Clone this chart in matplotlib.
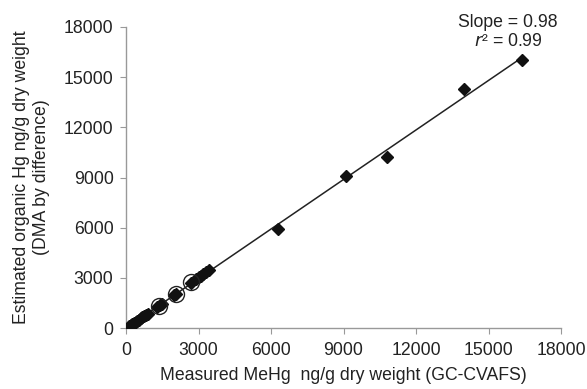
import matplotlib.pyplot as plt
import numpy as np

plt.rcParams['font.family'] = ['Liberation Sans', 'DejaVu Sans']

# measured MeHg (GC-CVAFS) vs estimated organic Hg (DMA by difference)
medido = [120, 200, 260, 330, 400, 460, 520, 600, 680, 750, 820, 900,
          1300, 1400, 1500, 2000, 2050, 2700, 2900, 3000, 3100, 3200,
          3300, 3450, 6300, 9100, 10800, 14000, 16400]
estimado = [100, 180, 250, 310, 380, 430, 500, 570, 640, 700, 780, 850,
            1250, 1350, 1450, 2000, 2050, 2700, 2950, 3050, 3100, 3250,
            3350, 3480, 5900, 9100, 10250, 14300, 16000]

# puntos marcados con circulo
circ_x = [1350, 2050, 2700]
circ_y = [1320, 2030, 2750]

ticks = [0, 3000, 6000, 9000, 12000, 15000, 18000]
fs = 12.7

fig = plt.figure(figsize=(5.87, 3.89), dpi=100)
ax = fig.add_axes([0.2147, 0.1568, 0.741, 0.7738])

m, b = np.polyfit(medido, estimado, 1)
xl = np.array([min(medido), max(medido)])
ax.plot(xl, m * xl + b, color='#222222', lw=1.1, zorder=2)

ax.plot(medido, estimado, 'D', color='#111111', markersize=6.3, zorder=3)
ax.plot(circ_x, circ_y, 'o', mfc='none', mec='#222222', mew=1.0,
        markersize=11.5, zorder=4)

ax.set_xlim(0, 18000)
ax.set_ylim(0, 18000)
ax.set_xticks(ticks)
ax.set_yticks(ticks)

for s in ['top', 'right']:
    ax.spines[s].set_visible(False)
for s in ['left', 'bottom']:
    ax.spines[s].set_color('#999999')
    ax.spines[s].set_linewidth(1.0)
ax.tick_params(direction='out', length=4, color='#999999', labelsize=fs,
               labelcolor='#222222', pad=5)
ax.tick_params(axis='x', pad=6)

ax.set_xlabel('Measured MeHg  ng/g dry weight (GC-CVAFS)', fontsize=fs,
              color='#222222', labelpad=6)
ax.set_ylabel('Estimated organic Hg ng/g dry weight\n(DMA by difference)',
              fontsize=fs, color='#222222', labelpad=10, linespacing=1.25)

ax.text(0.878, 0.983, 'Slope = 0.98\n$r$² = 0.99', transform=ax.transAxes,
        ha='center', va='center', fontsize=fs, color='#222222',
        linespacing=1.15)

fig.savefig('out.png', dpi=100)
